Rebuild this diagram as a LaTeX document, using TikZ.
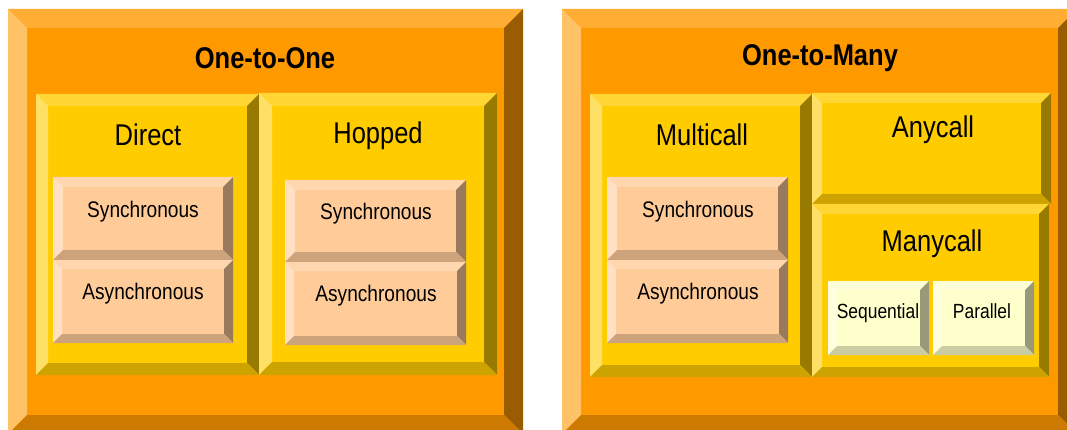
\documentclass[tikz,border=0pt]{standalone}
\usepackage{fontspec}
\newfontfamily\labelfont[FakeStretch=0.85]{Liberation Sans}
\definecolor{orangebox}{HTML}{FF9900}
\definecolor{goldbox}{HTML}{FFCC00}
\definecolor{peachbox}{HTML}{FFCC99}
\definecolor{creambox}{HTML}{FFFFCC}

% raised box: x1, y1, x2, y2, bevel depth, face colour
\newcommand{\bevelbox}[6]{%
  \fill[#6] (#1,#2) rectangle (#3,#4);
  \fill[#6!80!white] (#1,#2) -- (#3,#2) -- (#3-#5,#2+#5) -- (#1+#5,#2+#5) -- cycle;
  \fill[#6!60!white] (#1,#2) -- (#1+#5,#2+#5) -- (#1+#5,#4-#5) -- (#1,#4) -- cycle;
  \fill[#6!60!black] (#3,#2) -- (#3,#4) -- (#3-#5,#4-#5) -- (#3-#5,#2+#5) -- cycle;
  \fill[#6!80!black] (#1,#4) -- (#1+#5,#4-#5) -- (#3-#5,#4-#5) -- (#3,#4) -- cycle;
}

\tikzset{
  grouptitle/.style={font=\labelfont\bfseries\fontsize{30}{32}\selectfont},
  boxtitle/.style={font=\labelfont\fontsize{30}{32}\selectfont},
  leaftext/.style={font=\labelfont\fontsize{22.5}{24}\selectfont},
  smalltext/.style={font=\labelfont\fontsize{20.5}{22}\selectfont}
}

\begin{document}
\begin{tikzpicture}[x=1pt,y=-1pt]
\clip (0,0) rectangle (1067,430);
\fill[white] (0,0) rectangle (1067,430);

% one-to-one side
\bevelbox{8}{9}{523}{434}{19}{orangebox}
\bevelbox{36}{94}{259}{375}{12}{goldbox}
\bevelbox{259}{93}{497}{375}{13}{goldbox}
\bevelbox{53}{177}{233}{260}{10}{peachbox}
\bevelbox{53}{260}{233}{343}{9}{peachbox}
\bevelbox{285}{180}{466}{262}{10}{peachbox}
\bevelbox{285}{262}{466}{345}{9}{peachbox}

% one-to-many side
\bevelbox{562}{9}{1077}{434}{19}{orangebox}
\bevelbox{590}{94}{812}{377}{12}{goldbox}
\bevelbox{812}{93}{1051}{204}{10}{goldbox}
\bevelbox{812}{204}{1049}{377}{10}{goldbox}
\bevelbox{607}{177}{788}{260}{10}{peachbox}
\bevelbox{607}{260}{788}{343}{9}{peachbox}
\bevelbox{828}{281}{929}{355}{9}{creambox}
\bevelbox{933}{281}{1034}{355}{9}{creambox}

\node[grouptitle] (single) at (265,58) {One-to-One};
\node[boxtitle] (direct) at (148,135) {Direct};
\node[boxtitle] (hopped) at (378,136) {Hopped};
\node[leaftext] (dsync) at (143,212) {Synchronous};
\node[leaftext] (dasync) at (143,294) {Asynchronous};
\node[leaftext] (hsync) at (376,214) {Synchronous};
\node[leaftext] (hasync) at (376,296) {Asynchronous};

\node[grouptitle] (group) at (820,58) {One-to-Many};
\node[boxtitle] (multi) at (702,135) {Multicall};
\node[leaftext] (msync) at (698,212) {Synchronous};
\node[leaftext] (masync) at (698,294) {Asynchronous};
\node[boxtitle] (any) at (933,130) {Anycall};
\node[boxtitle] (many) at (932,244) {Manycall};
\node[smalltext] (seq) at (878,313) {Sequential};
\node[smalltext] (par) at (982,311) {Parallel};

\end{tikzpicture}
\end{document}
